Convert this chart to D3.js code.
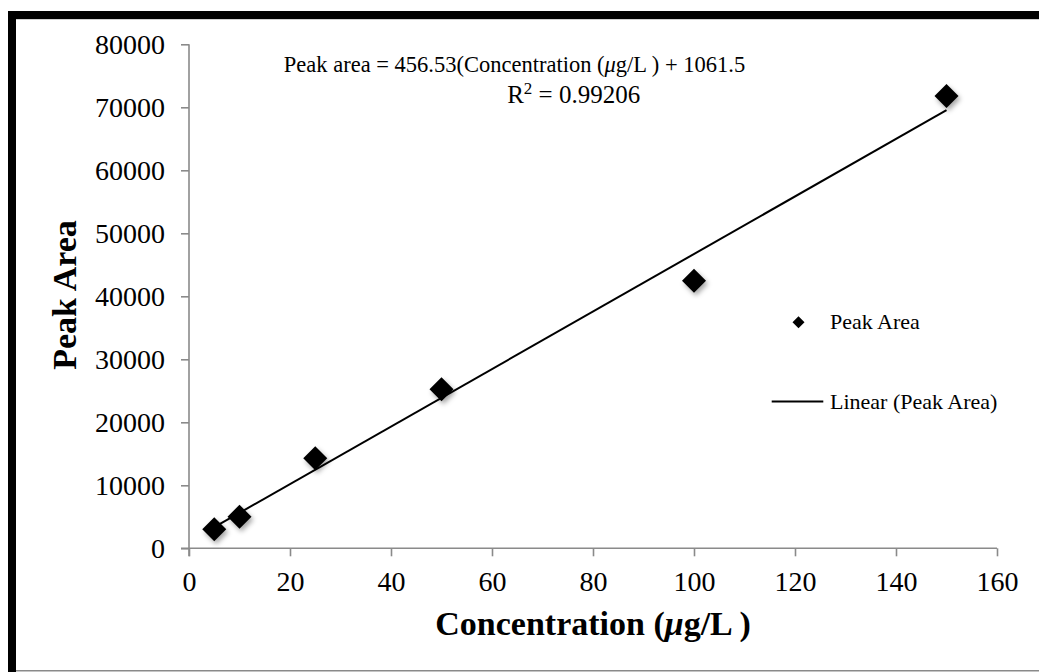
<!DOCTYPE html>
<html>
<head>
<meta charset="utf-8">
<script src="https://cdn.jsdelivr.net/npm/d3@7"></script>
<style>
  html, body { margin: 0; padding: 0; background: #fff; }
  svg { display: block; font-family: "Liberation Serif", "DejaVu Serif", serif; }
</style>
</head>
<body>
<svg id="chart" width="1039" height="672"></svg>
<script>
// Calibration data
const concentrations = [5, 10, 25, 50, 100, 150];
const peakAreas = [3020, 5000, 14290, 25240, 42460, 71800];

// Linear fit reported on the chart
const slope = 456.53;
const intercept = 1061.5;
const rSquared = "0.99206";

const xTicks = [0, 20, 40, 60, 80, 100, 120, 140, 160];
const yTicks = [0, 10000, 20000, 30000, 40000, 50000, 60000, 70000, 80000];

const svg = d3.select("#chart");
const W = 1039, H = 672;

// Outer frame: heavy black bar at left and top, thin grey at bottom
svg.append("rect").attr("x", 0).attr("y", 0).attr("width", W).attr("height", H).attr("fill", "#fff");
svg.append("rect").attr("x", 8).attr("y", 11).attr("width", W - 8).attr("height", 8).attr("fill", "#000");
svg.append("line").attr("x1", 16).attr("x2", W).attr("y1", 19.5).attr("y2", 19.5)
  .attr("stroke", "#cfcfcf").attr("stroke-width", 1);
svg.append("rect").attr("x", 8).attr("y", 11).attr("width", 8).attr("height", H - 11).attr("fill", "#000");
svg.append("line").attr("x1", 16).attr("x2", W).attr("y1", 670.8).attr("y2", 670.8)
  .attr("stroke", "#8a8a8a").attr("stroke-width", 1.5);

const x = d3.scaleLinear().domain([0, 160]).range([189, 997]);
const y = d3.scaleLinear().domain([0, 80000]).range([548.3, 44.3]);

// Soft drop shadow for the markers
const defs = svg.append("defs");
const f = defs.append("filter").attr("id", "shadow")
  .attr("x", "-50%").attr("y", "-50%").attr("width", "200%").attr("height", "200%");
f.append("feDropShadow").attr("dx", 2).attr("dy", 3).attr("stdDeviation", 2.5)
  .attr("flood-color", "#000").attr("flood-opacity", 0.35);

// Axes
const axisColor = "#8a8a8a";
const yAxis = svg.append("g").attr("transform", `translate(${x(0)},0)`)
  .call(d3.axisLeft(y).tickValues(yTicks).tickSize(8).tickPadding(16).tickFormat(d3.format("d")));
const xAxis = svg.append("g").attr("transform", `translate(0,${y(0)})`)
  .call(d3.axisBottom(x).tickValues(xTicks).tickSize(8).tickPadding(15).tickFormat(d3.format("d")));

[xAxis, yAxis].forEach(g => {
  g.select(".domain").attr("stroke", axisColor).attr("stroke-width", 1.6);
  g.selectAll(".tick line").attr("stroke", axisColor).attr("stroke-width", 1.6);
  g.selectAll(".tick text").attr("fill", "#000")
    .style("font-family", "'Liberation Serif', serif").style("font-size", "28px");
});
// axis lines run through the crossing ticks
yAxis.select(".domain").attr("d", `M0,${y(80000)}V${y(0) + 8}`);
xAxis.select(".domain").attr("d", `M${x(0) - 8},0H${x(160)}`);

// Trendline across the measured range
const xMin = d3.min(concentrations), xMax = d3.max(concentrations);
svg.append("line")
  .attr("x1", x(xMin)).attr("y1", y(slope * xMin + intercept))
  .attr("x2", x(xMax)).attr("y2", y(slope * xMax + intercept))
  .attr("stroke", "#000").attr("stroke-width", 2);

// Diamond markers
const diamond = r => `M0,${-r}L${r},0L0,${r}L${-r},0Z`;
svg.append("g").selectAll("path")
  .data(concentrations.map((c, i) => [c, peakAreas[i]]))
  .join("path")
  .attr("d", diamond(12))
  .attr("transform", d => `translate(${x(d[0])},${y(d[1])})`)
  .attr("fill", "#000")
  .attr("filter", "url(#shadow)");

// Equation label
const eq = svg.append("g").style("font-size", "22.5px").attr("fill", "#000")
  .attr("text-anchor", "middle");
const l1 = eq.append("text").attr("x", 514.5).attr("y", 71.5);
l1.append("tspan").text(`Peak area = ${slope}(Concentration (`);
l1.append("tspan").style("font-style", "italic").text("\u03bc");
l1.append("tspan").text(`g/L ) + ${intercept}`);
const r2 = eq.append("text").attr("x", 573.7).attr("y", 102.5).style("font-size", "25px");
r2.append("tspan").text("R");
r2.append("tspan").attr("dy", -9).style("font-size", "17px").text("2");
r2.append("tspan").attr("dy", 9).text(` = ${rSquared}`);

// Legend
const lg = svg.append("g").style("font-size", "22px");
lg.append("path").attr("d", diamond(6)).attr("transform", "translate(798.5,322.3)").attr("fill", "#000");
lg.append("text").attr("x", 830).attr("y", 329.3).text("Peak Area");
lg.append("line").attr("x1", 771.7).attr("x2", 823.3).attr("y1", 401.5).attr("y2", 401.5)
  .attr("stroke", "#000").attr("stroke-width", 2);
lg.append("text").attr("x", 830).attr("y", 409.3).text("Linear (Peak Area)");

// Axis titles
const xt = svg.append("text").attr("x", 593).attr("y", 635).attr("text-anchor", "middle")
  .style("font-size", "34px").style("font-weight", "bold");
xt.append("tspan").text("Concentration (");
xt.append("tspan").style("font-style", "italic").text("\u03bc");
xt.append("tspan").text("g/L )");

svg.append("text").attr("transform", "translate(76,295) rotate(-90)")
  .attr("text-anchor", "middle").style("font-size", "34px").style("font-weight", "bold")
  .text("Peak Area");
</script>
</body>
</html>
